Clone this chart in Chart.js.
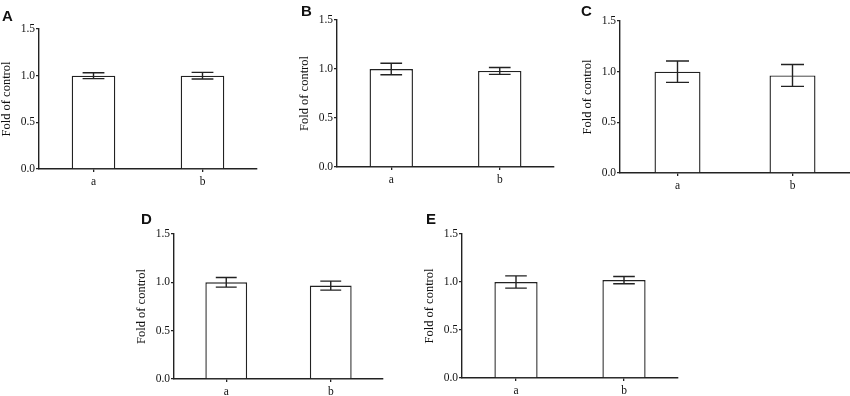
<!DOCTYPE html>
<html>
<head>
<meta charset="utf-8">
<script src="https://cdn.jsdelivr.net/npm/chart.js@4.4.1/dist/chart.umd.min.js"></script>
<style>
  html, body { margin:0; padding:0; background:#fff; }
  body { width:850px; height:396px; position:relative; overflow:hidden; }
  .panel { position:absolute; }
  .letter { position:absolute; font:bold 15px "Liberation Sans", Arial, sans-serif; color:#111; line-height:15px; }
</style>
</head>
<body>
<script>
// data
const categories = ['a', 'b'];
const panelLabels = ['A', 'B', 'C', 'D', 'E'];
const yTicks = [0, 0.5, 1.0, 1.5];
const yTitle = 'Fold of control';

const meanA = [1.00, 1.00];
const errA  = [0.032, 0.035];
const meanB = [1.00, 0.98];
const errB  = [0.058, 0.035];
const meanC = [1.00, 0.963];
const errC  = [0.106, 0.108];
const meanD = [1.00, 0.966];
const errD  = [0.05, 0.047];
const meanE = [1.00, 1.02];
const errE  = [0.064, 0.038];

const means = [meanA, meanB, meanC, meanD, meanE];
const errs  = [errA, errB, errC, errD, errE];

// layout: axis left, axis right, y of top (1.5), y of 0.0, letter x/y
const frames = [
  { l:39,  r:257, t:29,  b:169, lx:2,   ly:8 },
  { l:337, r:554, t:20,  b:167, lx:301, ly:3 },
  { l:620, r:850, t:21,  b:173, lx:581, ly:3 },
  { l:174, r:383, t:234, b:379, lx:141, ly:211 },
  { l:462, r:678, t:234, b:378, lx:426, ly:211 }
];

const Y_W = 40, TOP_PAD = 8, X_H = 24;
const ink = '#222';
const serif = '"Liberation Serif", "Times New Roman", serif';

const errorBars = {
  id: 'errorBars',
  afterDatasetsDraw(chart, args, opts) {
    const ctx = chart.ctx;
    const y = chart.scales.y;
    const meta = chart.getDatasetMeta(0);
    ctx.save();
    ctx.strokeStyle = ink;
    ctx.lineWidth = 1.4;
    meta.data.forEach((bar, i) => {
      const m = opts.means[i], e = opts.errs[i];
      const yHi = y.getPixelForValue(m + e);
      const yLo = y.getPixelForValue(m - e);
      const half = bar.width / 4;
      ctx.beginPath();
      ctx.moveTo(bar.x, yHi); ctx.lineTo(bar.x, yLo);
      ctx.moveTo(bar.x - half, yHi); ctx.lineTo(bar.x + half, yHi);
      ctx.moveTo(bar.x - half, yLo); ctx.lineTo(bar.x + half, yLo);
      ctx.stroke();
    });
    ctx.restore();
  }
};

frames.forEach((f, k) => {
  const wrap = document.createElement('div');
  wrap.className = 'panel';
  const w = f.r - f.l + Y_W + 2;
  const h = f.b - f.t + TOP_PAD + X_H;
  wrap.style.left = (f.l - Y_W) + 'px';
  wrap.style.top = (f.t - TOP_PAD) + 'px';
  wrap.style.width = w + 'px';
  wrap.style.height = h + 'px';
  const cv = document.createElement('canvas');
  wrap.appendChild(cv);
  document.body.appendChild(wrap);

  const letter = document.createElement('div');
  letter.className = 'letter';
  letter.textContent = panelLabels[k];
  letter.style.left = f.lx + 'px';
  letter.style.top = f.ly + 'px';
  document.body.appendChild(letter);

  new Chart(cv.getContext('2d'), {
    type: 'bar',
    data: {
      labels: categories,
      datasets: [{
        data: means[k],
        backgroundColor: '#fff',
        borderColor: ink,
        borderWidth: 1.4,
        borderSkipped: 'bottom',
        barPercentage: 0.4,
        categoryPercentage: 1
      }]
    },
    options: {
      responsive: true,
      maintainAspectRatio: false,
      animation: false,
      layout: { padding: { top: TOP_PAD, right: 2, left: 0, bottom: 0 } },
      plugins: {
        legend: { display: false },
        tooltip: { enabled: false },
        errorBars: { means: means[k], errs: errs[k] }
      },
      scales: {
        x: {
          afterFit: s => { s.height = X_H; },
          grid: { drawOnChartArea: false, drawTicks: true, tickLength: 3, color: ink, lineWidth: 1.3, offset: false },
          border: { display: true, color: ink, width: 1.4 },
          ticks: { color: '#111', padding: 3, font: { family: serif, size: 11.5 } }
        },
        y: {
          min: 0, max: 1.5,
          afterFit: s => { s.width = Y_W; },
          afterBuildTicks: s => { s.ticks = yTicks.map(v => ({ value: v })); },
          grid: { drawOnChartArea: false, drawTicks: true, tickLength: 3, color: ink, lineWidth: 1.3 },
          border: { display: true, color: ink, width: 1.4 },
          ticks: {
            color: '#111', padding: 1,
            font: { family: serif, size: 11.5 },
            callback: v => Number(v).toFixed(1)
          },
          title: {
            display: true, text: yTitle, color: '#111', padding: 0,
            font: { family: serif, size: 12.5 }
          }
        }
      }
    },
    plugins: [errorBars]
  });
});
</script>
</body>
</html>
